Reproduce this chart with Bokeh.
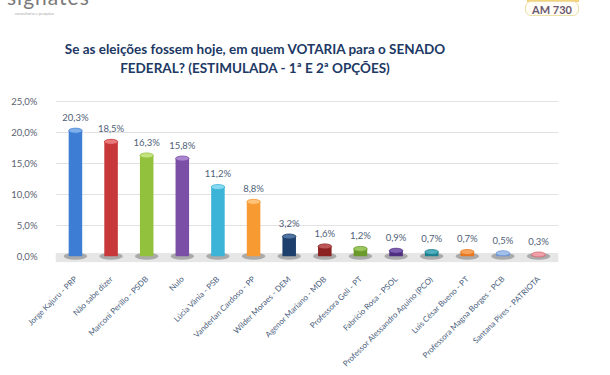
from bokeh.plotting import figure
from bokeh.models import (FactorRange, Range1d, FixedTicker, CustomJSTickFormatter,
                          ColumnDataSource, Div)
from bokeh.layouts import column
from bokeh.core.properties import value
from bokeh.embed import file_html
from bokeh.resources import INLINE
import math

# ---------------- data ----------------
candidates = [
    "Jorge Kajuru - PRP", "Não sabe dizer", "Marconi Perillo - PSDB", "Nulo",
    "Lúcia Vânia - PSB", "Vanderlan Cardoso - PP", "Wilder Moraes - DEM",
    "Agenor Mariano - MDB", "Professora Geli - PT", "Fabrício Rosa - PSOL",
    "Professor Alessandro Aquino (PCO)", "Luis César Bueno - PT",
    "Professora Magna Borges - PCB", "Santana Pires - PATRIOTA",
]
percent = [20.3, 18.5, 16.3, 15.8, 11.2, 8.8, 3.2, 1.6, 1.2, 0.9, 0.7, 0.7, 0.5, 0.3]
bar_colors = ["#3d7ed4", "#c8383a", "#92c13e", "#7b4fa6", "#3bb4d8", "#f79a32",
              "#1e3f6b", "#8c2222", "#6a9a2b", "#4e2f80", "#1d7f8f", "#e8771e",
              "#6f97d4", "#d96a74"]
top_colors = ["#7fb0ea", "#e87a7c", "#c3e37e", "#ab86d0", "#86d9f0", "#ffc37a",
              "#4f73a3", "#bd5656", "#9cc75e", "#7d5eb0", "#4eaebd", "#f7a55e",
              "#a3c0ea", "#f0a0a8"]
y_ticks = [0, 5, 10, 15, 20, 25]
title_1 = "Se as eleições fossem hoje, em quem VOTARIA para o SENADO"
title_2 = "FEDERAL? (ESTIMULADA - 1ª E 2ª OPÇÕES)"
logo_text = "signates"
logo_sub = "consultoria e pesquisa"
badge_text = "AM 730"

labels = [f"{v:.1f}".replace(".", ",") + "%" for v in percent]
src = ColumnDataSource(dict(x=candidates, top=percent, color=bar_colors,
                            tcolor=top_colors, label=labels))

FONT = "Lato"
HEAD_H = 90

header_html = f"""
<div style="position:relative;width:610px;height:{HEAD_H}px;overflow:visible;font-family:{FONT};">
  <div style="position:absolute;left:7px;top:-14px;font-size:21px;line-height:22px;color:#7a7a7a;letter-spacing:1px;white-space:nowrap;">{logo_text}</div>
  <div style="position:absolute;left:15px;top:11px;font-size:4px;line-height:5px;color:#a8a8a8;white-space:nowrap;">{logo_sub}</div>
  <div style="position:absolute;left:527px;top:0px;width:52px;height:2px;background:#f3d27a;"></div>
  <div style="position:absolute;left:525px;top:1px;width:54px;height:15px;border:1.5px solid #eddfa8;border-radius:6px;background:#fffdf6;color:#6b5870;font-weight:bold;font-size:11px;line-height:15px;text-align:center;white-space:nowrap;">{badge_text}</div>
  <div style="position:absolute;left:0px;top:40px;width:510px;text-align:center;font-weight:bold;font-size:13.5px;line-height:19px;color:#203864;white-space:nowrap;">{title_1}<br>{title_2}</div>
</div>
"""
header = Div(text=header_html, width=610, height=HEAD_H, margin=0)

p = figure(width=610, height=375 - HEAD_H, output_backend="svg", toolbar_location=None,
           x_range=FactorRange(*candidates, range_padding=0.06,
                               range_padding_units="absolute"),
           y_range=Range1d(-1, 25.5),
           min_border_left=55, min_border_right=52,
           min_border_top=8, min_border_bottom=113, margin=0)
p.outline_line_color = None
p.background_fill_color = "white"
p.border_fill_color = "white"

# floor shadow
p.quad(left=[-0.06], right=[14.06], bottom=[-0.95], top=[0.55],
       fill_color="#e6e6e6", line_color=None)
p.ellipse(x="x", y=0, width=0.66, height=7, height_units="screen",
          source=src, fill_color="#6e6e6e", fill_alpha=0.5, line_color=None)

# cylinder bars
p.vbar(x="x", top="top", bottom=0, width=0.38, source=src,
       fill_color="color", line_color=None)
p.ellipse(x="x", y="top", width=0.38, height=5, height_units="screen",
          source=src, fill_color="tcolor", line_color="color", line_width=0.8)

p.text(x="x", y="top", text="label", source=src, text_align="center",
       text_baseline="middle", y_offset=-13, text_font=value(FONT),
       text_font_size="9.5px", text_color="#4f5f78")

# axes
p.yaxis.ticker = FixedTicker(ticks=y_ticks)
p.yaxis.formatter = CustomJSTickFormatter(
    code="return tick.toFixed(1).replace('.', ',') + '%';")
p.yaxis.axis_line_color = None
p.yaxis.major_tick_line_color = None
p.yaxis.minor_tick_line_color = None
p.yaxis.major_label_standoff = 12
p.yaxis.major_label_text_font = FONT
p.yaxis.major_label_text_font_size = "9.5px"
p.yaxis.major_label_text_color = "#5a6270"

p.xaxis.axis_line_color = None
p.xaxis.major_tick_line_color = None
p.xaxis.major_label_orientation = math.pi / 4
p.xaxis.major_label_standoff = 9
p.xaxis.major_label_text_font = FONT
p.xaxis.major_label_text_font_size = "8px"
p.xaxis.major_label_text_color = "#4d5f7e"

p.xgrid.grid_line_color = None
p.ygrid.grid_line_color = "#e2e2e2"
p.ygrid.ticker = FixedTicker(ticks=y_ticks)

layout = column(header, p, spacing=0, margin=0)
open("out.html", "w").write(file_html(layout, INLINE))
